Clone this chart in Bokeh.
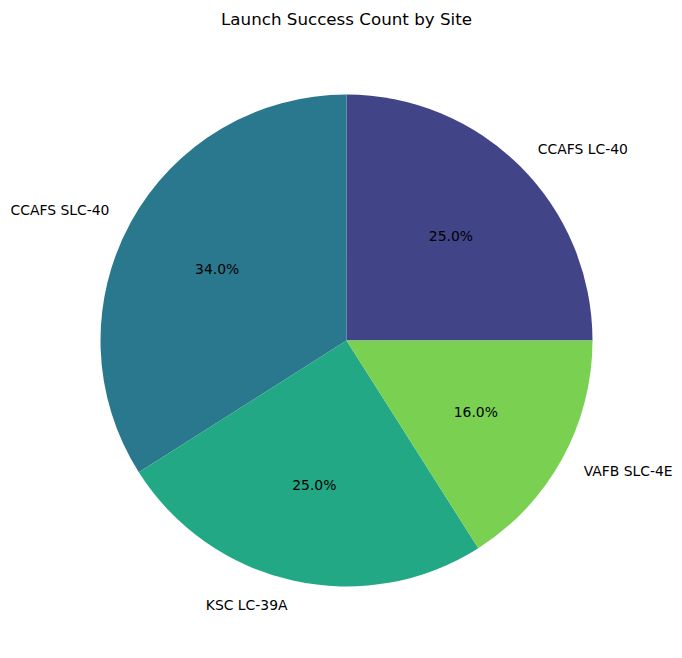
import math
from bokeh.plotting import figure
from bokeh.models import ColumnDataSource, Range1d
from bokeh.core.properties import value
from bokeh.embed import file_html
from bokeh.resources import INLINE

sites = ["CCAFS LC-40", "CCAFS SLC-40", "KSC LC-39A", "VAFB SLC-4E"]
counts = [25, 34, 25, 16]
colors = ["#414487", "#2a788e", "#22a884", "#7ad151"]
title = "Launch Success Count by Site"

W, H = 682, 658
cx, cy, r = 346, H - 340, 246

total = float(sum(counts))
starts, ends, mids = [], [], []
acc = 0.0
for c in counts:
    a0 = 2 * math.pi * acc / total
    acc += c
    a1 = 2 * math.pi * acc / total
    starts.append(a0)
    ends.append(a1)
    mids.append((a0 + a1) / 2)

lab_x = [cx + 1.1 * r * math.cos(m) for m in mids]
lab_y = [cy + 1.1 * r * math.sin(m) for m in mids]
lab_align = ["left" if math.cos(m) >= 0 else "right" for m in mids]
pct_x = [cx + 0.6 * r * math.cos(m) for m in mids]
pct_y = [cy + 0.6 * r * math.sin(m) for m in mids]
pct = ["%.1f%%" % (100.0 * c / total) for c in counts]

src = ColumnDataSource(dict(site=sites, count=counts, color=colors,
                            start=starts, end=ends,
                            lx=lab_x, ly=lab_y, la=lab_align,
                            px=pct_x, py=pct_y, pct=pct))

p = figure(width=W, height=H, output_backend="svg", toolbar_location=None,
           x_range=Range1d(0, W), y_range=Range1d(0, H),
           x_axis_type=None, y_axis_type=None, min_border=0,
           outline_line_color=None)
p.grid.visible = False
p.background_fill_color = "white"
p.border_fill_color = "white"

p.wedge(x=cx, y=cy, radius=r, start_angle="start", end_angle="end",
        fill_color="color", line_color=None, source=src)

p.text(x="lx", y="ly", text="site", text_align="la", text_baseline="middle",
       text_font=value("DejaVu Sans"), text_font_size="13.9px",
       text_color="black", source=src)
p.text(x="px", y="py", text="pct", text_align="center", text_baseline="middle",
       text_font=value("DejaVu Sans"), text_font_size="13.9px",
       text_color="black", source=src)

p.text(x=[346], y=[H - 18], text=[title], text_align="center",
       text_baseline="middle", text_font=value("DejaVu Sans"),
       text_font_size="16.7px", text_color="black")

open("out.html", "w").write(file_html(p, INLINE))
